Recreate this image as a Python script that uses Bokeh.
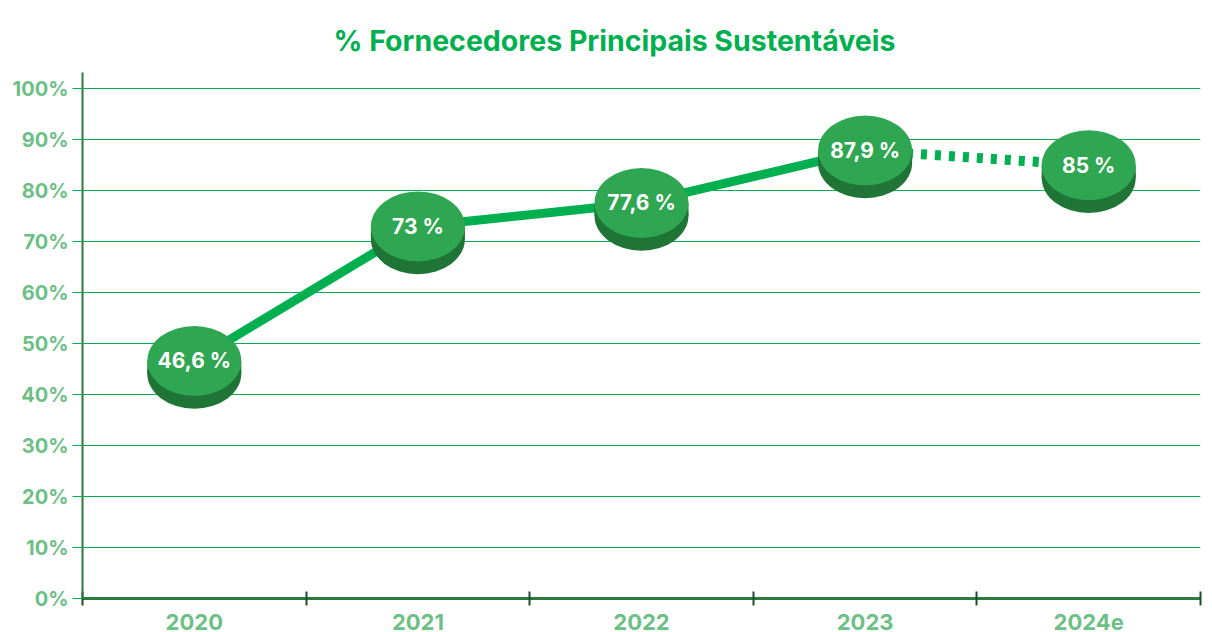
from bokeh.plotting import figure
from bokeh.models import FixedTicker, Range1d
from bokeh.embed import file_html
from bokeh.resources import INLINE

title = "% Fornecedores Principais Sustentáveis"
categories = ["2020", "2021", "2022", "2023", "2024e"]
values = [46.6, 73.0, 77.6, 87.9, 85.0]
labels = ["46,6 %", "73 %", "77,6 %", "87,9 %", "85 %"]
y_ticks = [0, 10, 20, 30, 40, 50, 60, 70, 80, 90, 100]

FONT = "Inter"
LINE_GREEN = "#00b050"
LABEL_GREEN = "#6cbf85"
AXIS_DARK = "#2c7a3e"
COIN_TOP = "#2fa651"
COIN_SIDE = "#1f7535"

xs = [i + 0.5 for i in range(len(categories))]
y_top = 103.2

p = figure(width=1212, height=632, output_backend="svg", toolbar_location=None,
           x_range=Range1d(0, len(categories)), y_range=Range1d(0, y_top),
           min_border_left=82, min_border_right=12, min_border_top=72, min_border_bottom=34,
           title=title)
p.outline_line_color = None
p.title.align = "left"
p.title.offset = 251
p.title.text_font = FONT
p.title.text_font_size = "28.5px"
p.title.text_font_style = "bold"
p.title.text_color = LINE_GREEN
p.title.standoff = 30

# grid
p.xgrid.grid_line_color = None
p.ygrid.ticker = FixedTicker(ticks=y_ticks)
p.ygrid.grid_line_color = LINE_GREEN
p.ygrid.grid_line_width = 1

# y axis
p.yaxis.ticker = FixedTicker(ticks=y_ticks)
p.yaxis.major_label_overrides = {t: f"{t}%" for t in y_ticks}
p.yaxis.major_label_text_font = FONT
p.yaxis.major_label_text_font_style = "bold"
p.yaxis.major_label_text_font_size = "20px"
p.yaxis.major_label_text_color = LABEL_GREEN
p.yaxis.axis_line_color = AXIS_DARK
p.yaxis.axis_line_width = 2
p.yaxis.major_tick_line_color = LINE_GREEN
p.yaxis.major_tick_out = 10
p.yaxis.major_tick_in = 0
p.yaxis.minor_tick_line_color = None
p.yaxis.major_label_standoff = 4

# x axis: labels at centres, ticks at band boundaries
p.xaxis.ticker = FixedTicker(ticks=xs, minor_ticks=list(range(len(categories) + 1)))
p.xaxis.major_label_overrides = {x: c for x, c in zip(xs, categories)}
p.xaxis.major_label_text_font = FONT
p.xaxis.major_label_text_font_style = "bold"
p.xaxis.major_label_text_font_size = "22px"
p.xaxis.major_label_text_color = LABEL_GREEN
p.xaxis.axis_line_color = AXIS_DARK
p.xaxis.axis_line_width = 3
p.xaxis.major_tick_line_color = None
p.xaxis.minor_tick_line_color = "#1b4d2a"
p.xaxis.minor_tick_line_width = 2
p.xaxis.minor_tick_in = 7
p.xaxis.minor_tick_out = 7
p.xaxis.major_label_standoff = 8

# line
p.line(xs[:4], values[:4], line_color=LINE_GREEN, line_width=9)
p.line(xs[3:], values[3:], line_color=LINE_GREEN, line_width=10, line_dash="6 8")

# coins
depth = 2.5
bottoms = [v - depth for v in values]
mids = [v - depth / 2 for v in values]
p.ellipse(xs, bottoms, width=94, height=70, width_units="screen", height_units="screen",
          fill_color=COIN_SIDE, line_color=None)
p.rect(xs, mids, width=94, height=depth, width_units="screen",
       fill_color=COIN_SIDE, line_color=None)
p.ellipse(xs, values, width=94, height=70, width_units="screen", height_units="screen",
          fill_color=COIN_TOP, line_color=None)
p.text(xs, values, text=labels, text_align="center", text_baseline="middle",
       text_color="white", text_font_size="21px", text_font_style="bold",
       text_font={"value": FONT})

open("out.html", "w").write(file_html(p, INLINE))
